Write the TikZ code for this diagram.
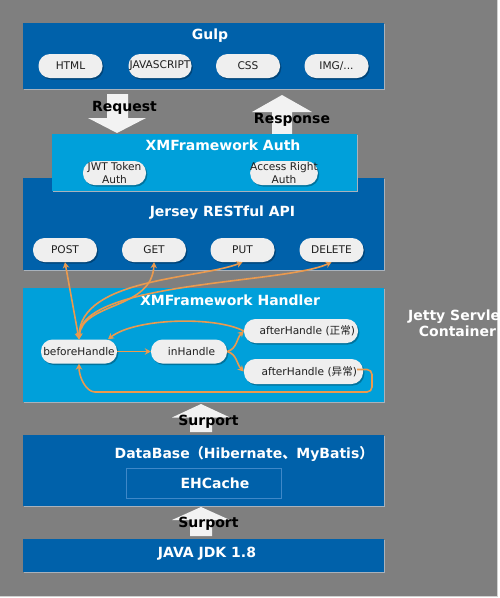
\documentclass[tikz,border=0pt]{standalone}
\usepackage{fontspec}
\setmainfont{DejaVu Sans}
\newfontfamily\cjk{Noto Sans CJK SC}
\usetikzlibrary{shadows,arrows.meta}
\definecolor{bg}{HTML}{7F7F7F}
\definecolor{dblue}{HTML}{0061AA}
\definecolor{lblue}{HTML}{00A0DA}
\definecolor{pillc}{HTML}{EFEFEF}
\definecolor{orng}{HTML}{EB9A4E}
\definecolor{arrw}{HTML}{F2F2F2}
\definecolor{edge}{HTML}{A9B2BC}
\definecolor{ehedge}{HTML}{3F88C8}
\begin{document}
\begin{tikzpicture}[x=1pt,y=-1pt,
 box/.style={anchor=north west, inner sep=0, outer sep=0, draw=none,
   drop shadow={shadow xshift=1pt, shadow yshift=-1pt, fill=edge, opacity=1}},
 ttl/.style={text=white, inner sep=0, font=\fontsize{14}{16}\selectfont\bfseries},
 pill/.style={fill=pillc, rounded corners=11.5pt, minimum height=24pt, inner sep=0,
   text=black!88, font=\fontsize{10.6}{13}\selectfont,
   drop shadow={shadow xshift=1.3pt, shadow yshift=-1.5pt, fill=black, opacity=0.28}},
 ptxt/.style={inner sep=0, text=black!88, font=\fontsize{10.6}{13}\selectfont},
 conn/.style={draw=orng, line width=1.6pt, -{Stealth[length=6pt,width=6.5pt]}},
 conn2/.style={conn, {Stealth[length=6pt,width=6.5pt]}-{Stealth[length=6pt,width=6.5pt]}},
 blk/.style={fill=arrw, draw=none},
 lbl/.style={text=black, inner sep=0, font=\fontsize{14}{16}\selectfont\bfseries}
]
\useasboundingbox (0,0) rectangle (499,598);
\fill[white] (0,0) rectangle (499,598);
\fill[bg] (0,0) rectangle (497,596);
\draw[black!18, line width=1pt] (497.5,0) -- (497.5,596.5) -- (0,596.5);

% Gulp
\node[box, fill=dblue, minimum width=361pt, minimum height=66pt] (gulp) at (23,23) {};
\node[ttl] (gulpt) at (210,36) {Gulp};
\node[pill, minimum width=64pt] (html) at (70.5,66) {HTML};
\node[pill, minimum width=63pt] (js) at (160,66) {JAVASCRIPT};
\node[pill, minimum width=64pt] (css) at (248,66) {CSS};
\node[pill, minimum width=64pt] (img) at (336.5,66) {IMG/...};

% request / response arrows
\fill[blk] (107,94) -- (128,94) -- (128,118) -- (146,118) -- (117,133) -- (88,118) -- (107,118) -- cycle;
\fill[blk] (282,95) -- (312,112) -- (292,112) -- (292,136) -- (272,136) -- (272,112) -- (252,112) -- cycle;
\node[lbl] (req) at (124.5,108) {Request};
\node[lbl] (resp) at (292,119.5) {Response};

% Jersey
\node[box, fill=dblue, minimum width=361pt, minimum height=92pt] (jersey) at (23,178) {};
\node[ttl] (jerseyt) at (222.5,213) {Jersey RESTful API};
\node[pill, minimum width=64pt] (post) at (65,250) {POST};
\node[pill, minimum width=64pt] (get) at (154,250) {GET};
\node[pill, minimum width=64pt] (put) at (242.5,250) {PUT};
\node[pill, minimum width=64pt] (del) at (331.5,250) {DELETE};

% Auth
\node[box, fill=lblue, minimum width=305pt, minimum height=57pt] (auth) at (52,134) {};
\node[ttl] (autht) at (223,145) {XMFramework Auth};
\node[pill, minimum width=63pt, align=center] (jwt) at (114.5,173) {JWT Token\\Auth};
\node[pill, minimum width=63pt, align=center] (acc) at (284,173) {Access Right\\Auth};

% Handler
\node[box, fill=lblue, minimum width=361pt, minimum height=114pt] (handler) at (23,288) {};
\node[ttl] (handlert) at (230,300.5) {XMFramework Handler};
\node[pill, minimum width=76pt] (bh) at (79,351.5) {beforeHandle};
\node[pill, minimum width=76pt] (ih) at (189,351.5) {\hspace{5pt}inHandle};
\node[pill, minimum width=114pt] (ah1) at (301,331) {};
\node[ptxt, anchor=west] (ah1t) at (259.5,331) {afterHandle ({\cjk 正常})};
\node[pill, minimum width=119pt, minimum height=25pt] (ah2) at (303.5,371.5) {};
\node[ptxt, anchor=west] (ah2t) at (261.5,371.5) {afterHandle ({\cjk 异常})};

% connectors
\draw[conn2] (bh.north) -- (post.south);
\draw[conn2] (bh.north) .. controls (82,302) and (152,310) .. (get.south);
\draw[conn2] (bh.north) .. controls (80,278) and (200,279) .. (put.south);
\draw[conn2] (bh.north) .. controls (80,281) and (285,284) .. (del.south);
\draw[conn] (bh.east) -- (ih.west);
\draw[conn] (ih.east) to[out=15, in=225] (ah1.west);
\draw[conn] (ih.east) to[out=-15, in=135] (ah2.west);
\draw[conn] (ah1.west) .. controls (215,316) and (135,318) .. ([xshift=29pt]bh.north);
\coordinate (loopr) at (372,392);
\coordinate (loopl) at (100,392);
\draw[conn, rounded corners=5pt] ([xshift=-6pt,yshift=2pt]ah2.east) -- ([yshift=2pt]ah2.east -| loopr) -- (loopr) -- (loopl) to[out=180, in=-90, rounded corners=0pt] (bh.south);

% Jetty label
\begin{scope}
\clip (0,0) rectangle (497,596);
\node[ttl, align=center, font=\fontsize{14}{15.5}\selectfont\bfseries] (jetty) at (457.5,323.5) {Jetty Servlet\\Container};
\end{scope}

% Surport 1
\fill[blk] (201,404) -- (230,417.5) -- (212,417.5) -- (212,432) -- (190,432) -- (190,417.5) -- (172,417.5) -- cycle;
\node[lbl] (sup1) at (208.5,421.5) {Surport};

% DataBase
\node[box, fill=dblue, minimum width=361pt, minimum height=71pt] (db) at (23,435) {};
\node[ttl] (dbt) at (244,454) {DataBase{\cjk （}Hibernate{\cjk 、}MyBatis{\cjk ）}};
\node[anchor=north west, inner sep=0, fill=dblue, draw=ehedge, line width=0.8pt, minimum width=155pt, minimum height=30pt] (ehc) at (126,468) {};
\node[ttl] (ehct) at (215,483) {EHCache};

% Surport 2
\fill[blk] (201,507) -- (230,520) -- (212,520) -- (212,536) -- (190,536) -- (190,520) -- (172,520) -- cycle;
\node[lbl] (sup2) at (208.5,524) {Surport};

% JDK
\node[box, fill=dblue, minimum width=361pt, minimum height=33pt] (jdk) at (23,539) {};
\node[ttl] (jdkt) at (207,554) {JAVA JDK 1.8};
\end{tikzpicture}
\end{document}
